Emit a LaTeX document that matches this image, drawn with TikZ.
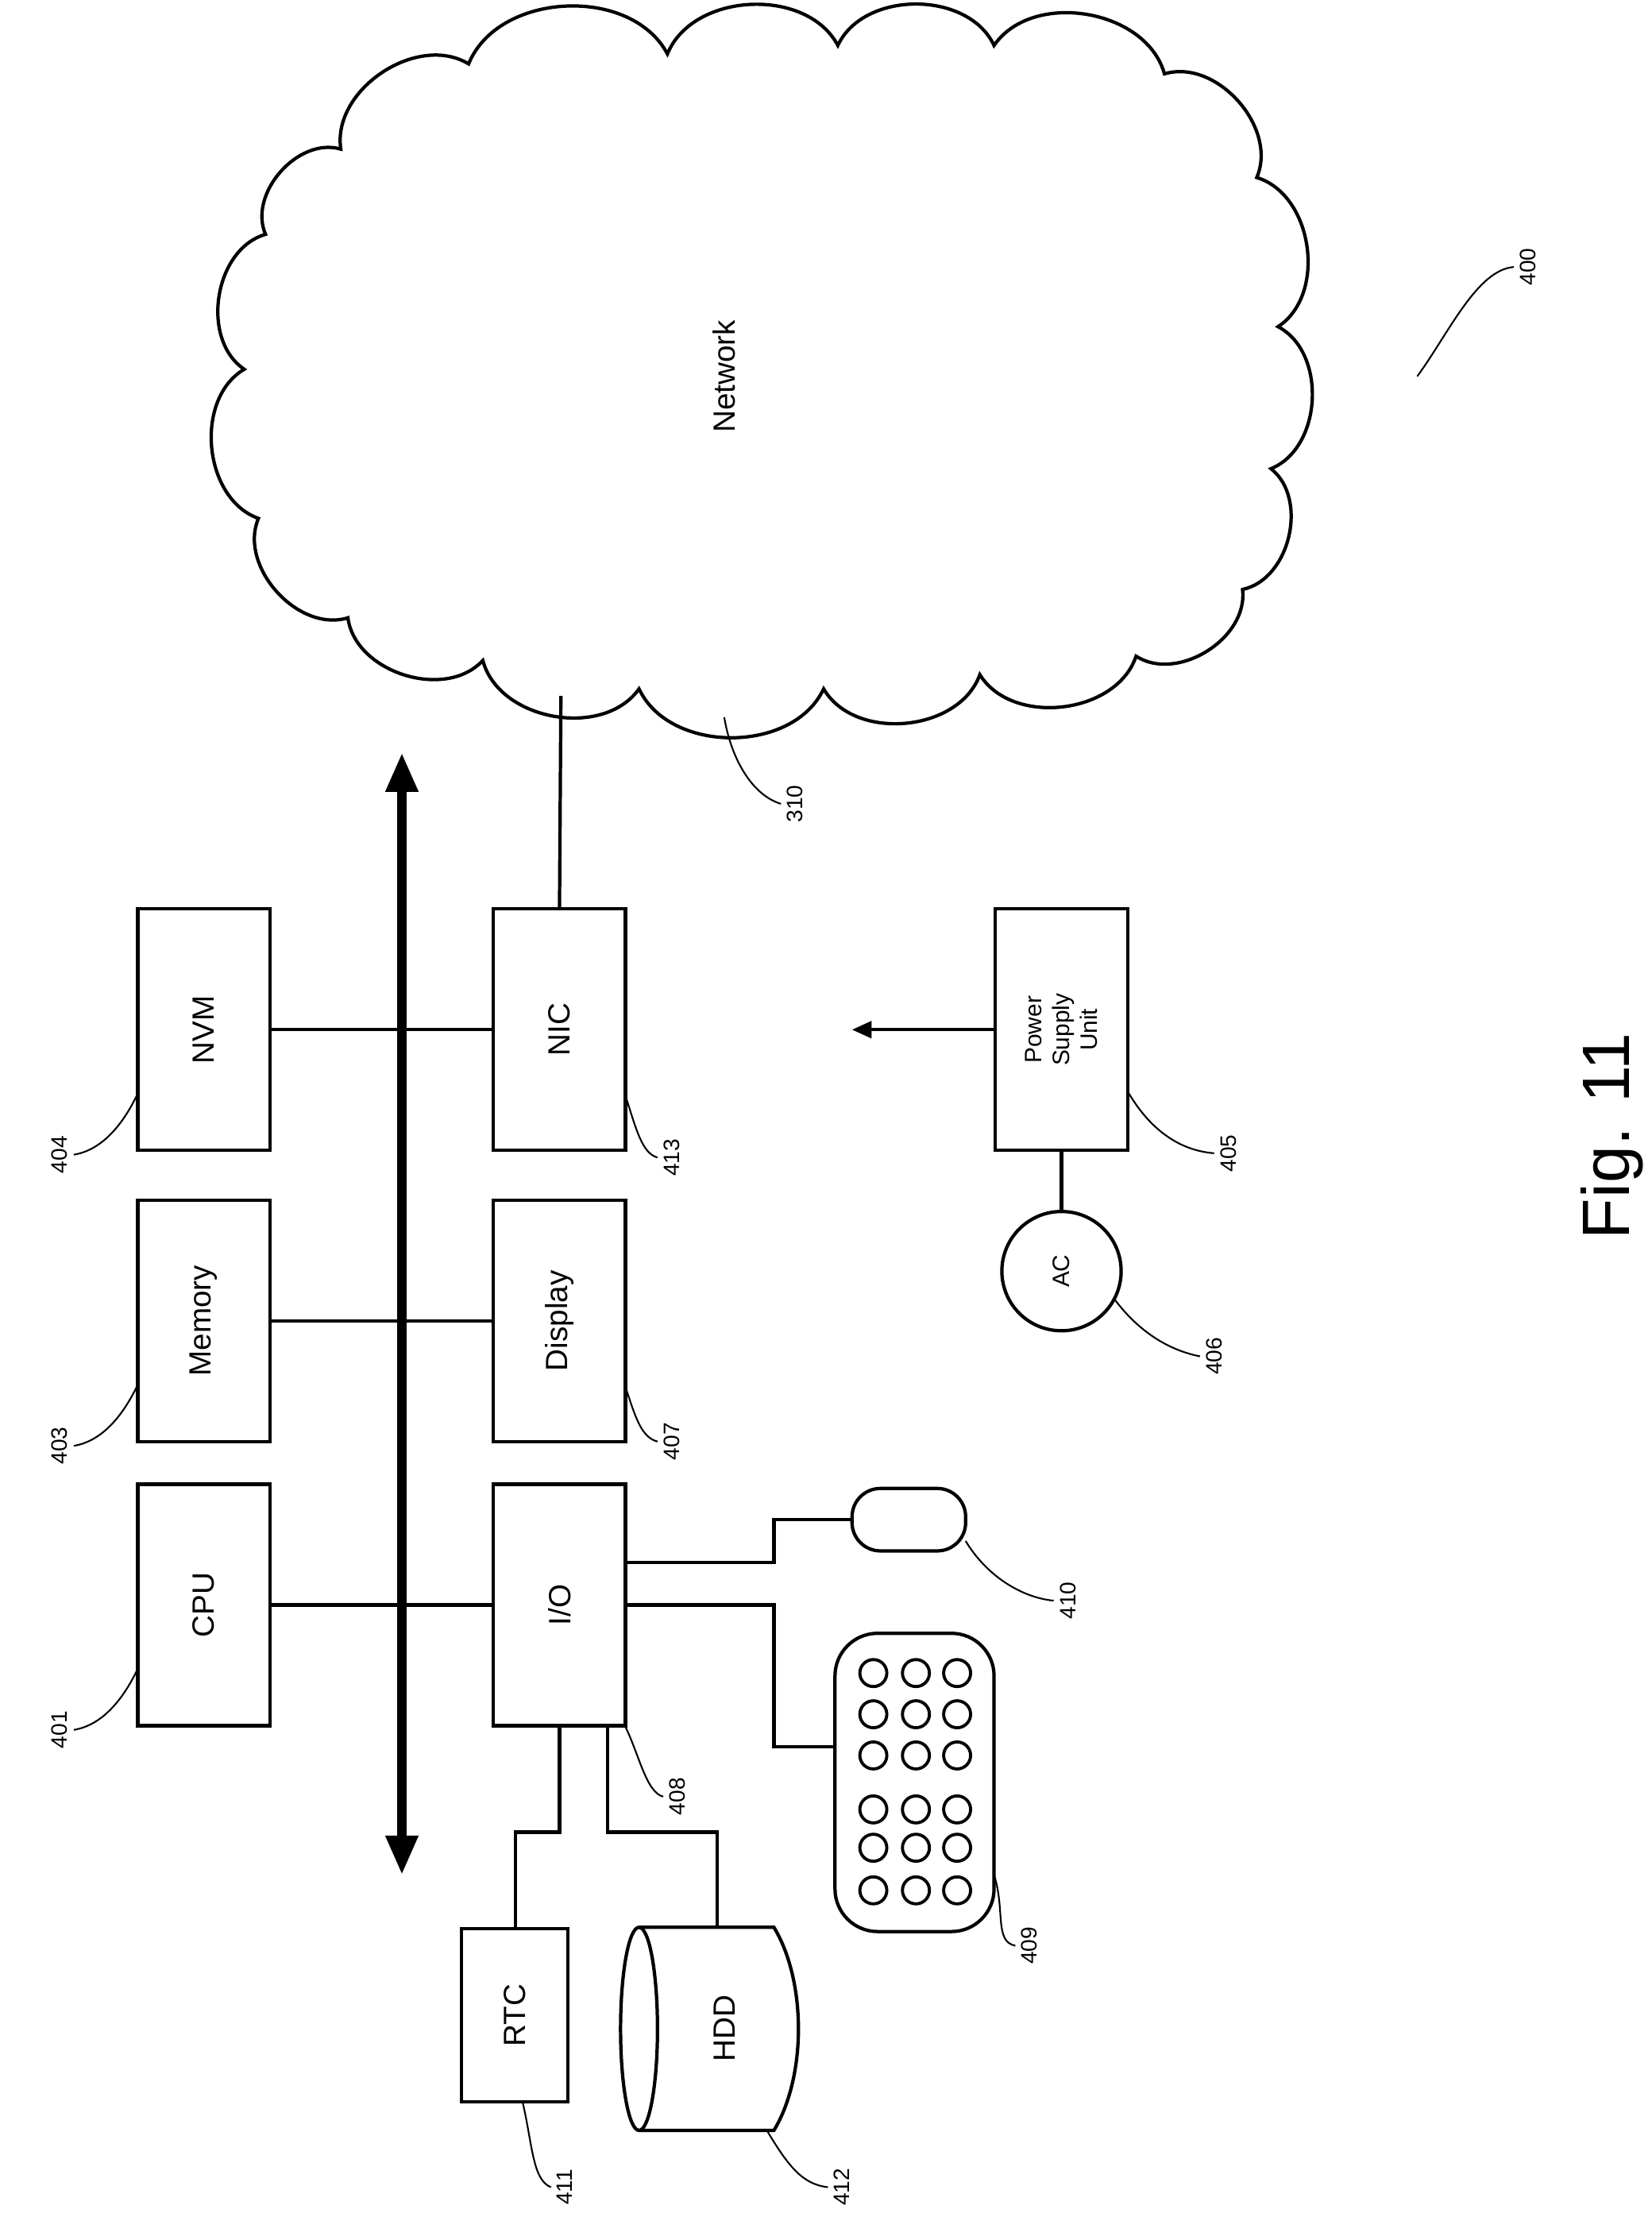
\documentclass[tikz,border=0pt]{standalone}
\usepackage{fontspec}
\setmainfont{Liberation Sans}
\usetikzlibrary{arrows.meta,shapes.geometric}
\begin{document}
\begin{tikzpicture}[x=0.01788cm,y=-0.01788cm,
  box/.style={draw,line width=1.2pt,minimum width=93*0.01788cm,minimum height=170*0.01788cm,inner sep=0pt},
  lbl/.style={rotate=90,font=\fontsize{11}{13}\selectfont},
  num/.style={rotate=90,font=\fontsize{8}{10}\selectfont,inner sep=1pt},
  wire/.style={line width=1.2pt},
  lead/.style={line width=0.6pt},
  key/.style={draw,line width=1.1pt,circle,minimum size=19*0.01788cm,inner sep=0pt}]
\useasboundingbox (0,0) rectangle (1163,1561);
% cloud
\draw[line width=1.2pt] (240,105) to[bend left=65] (330,45) to[bend left=65] (470,38) to[bend left=65] (590,32) to[bend left=65] (700,32) to[bend left=65] (820,52) to[bend left=65] (885,125) to[bend left=65] (900,230) to[bend left=65] (895,330) to[bend left=65] (875,415) to[bend left=65] (800,462) to[bend left=65] (690,475) to[bend left=65] (580,485) to[bend left=65] (450,485) to[bend left=65] (340,465) to[bend left=65] (245,435) to[bend left=65] (182,365) to[bend left=65] (172,260) to[bend left=65] (187,165) to[bend left=65] cycle;
\node[lbl] (net) at (510,265) {Network};
\coordinate (cloudb) at (395,490);
% boxes
\node[box] (cpu) at (143.5,1130) {}; \node[lbl] at (cpu) {CPU};
\node[box] (mem) at (143.5,930) {}; \node[lbl] at (mem) {Memory};
\node[box] (nvm) at (143.5,725) {}; \node[lbl] at (nvm) {NVM};
\node[box] (io) at (394,1130) {}; \node[lbl] at (io) {I/O};
\node[box] (disp) at (394,930) {}; \node[lbl] at (disp) {Display};
\node[box] (nic) at (394,725) {}; \node[lbl] at (nic) {NIC};
\node[box] (psu) at (747.5,725) {}; \node[lbl,align=center,font=\fontsize{8.5}{10}\selectfont] at (psu) {Power\\Supply\\Unit};
\node[draw,circle,line width=1.2pt,minimum size=84*0.01788cm,inner sep=0pt] (ac) at (747.5,895) {};
\node[lbl,font=\fontsize{8.5}{10}\selectfont] at (ac) {AC};
\node[draw,line width=1.2pt,minimum width=75*0.01788cm,minimum height=122*0.01788cm,inner sep=0pt] (rtc) at (362.5,1419) {};
\node[lbl] at (rtc) {RTC};
\node[draw,line width=1.2pt,rounded corners=20*0.01788cm,minimum width=80*0.01788cm,minimum height=44*0.01788cm,inner sep=0pt] (mouse) at (640,1070) {};
\node[draw,line width=1.2pt,rounded corners=30*0.01788cm,minimum width=112*0.01788cm,minimum height=210*0.01788cm,inner sep=0pt] (kbd) at (644,1255) {};
\foreach \c in {615,645,674} \foreach \r in {1178,1207,1236,1274,1301,1331} \node[key] at (\c,\r) {};
% HDD
\coordinate (hddtop) at (505,1357);
\draw[line width=1.2pt] (450,1357) -- (545,1357) .. controls (568,1395) and (568,1462) .. (545,1500) -- (450,1500);
\draw[line width=1.2pt] (450,1428.5) ellipse [x radius=13, y radius=71.5];
\node[lbl] (hdd) at (510,1428) {HDD};
% bus
\coordinate (bt) at (283,530); \coordinate (bb) at (283,1320);
\draw[line width=3.2pt,{Triangle[length=14pt,width=11pt]}-{Triangle[length=14pt,width=11pt]}] (bt) -- (bb);
% wires
\draw[wire] (cpu.east) -- (io.west);
\draw[wire] (mem.east) -- (disp.west);
\draw[wire] (nvm.east) -- (nic.west);
\draw[wire] (nic.north) -- (cloudb);
\coordinate (pwr) at (600,725);
\draw[wire,-{Triangle[length=7pt,width=6pt]}] (psu.west) -- (pwr);
\draw[wire] (psu.south) -- (ac.north);
\draw[wire] (io.east |- 0,1100) -- (545,1100) -- (545,1070) -- (mouse.west);
\draw[wire] (io.east |- 0,1130) -- (545,1130) -- (545,1230) -- (kbd.west |- 0,1230);
\draw[wire] (394,1215) -- (394,1290) -- (363,1290) -- (363,1358);
\draw[wire] (428,1215) -- (428,1290) -- (505,1290) -- (hddtop);
% leaders and numbers
\draw[lead] (97,1175) .. controls (85,1200) and (70,1215) .. (52,1218);
\node[num,anchor=south] at (50,1218) {401};
\draw[lead] (97,975) .. controls (85,1000) and (70,1015) .. (52,1018);
\node[num,anchor=south] at (50,1018) {403};
\draw[lead] (97,770) .. controls (85,795) and (70,810) .. (52,813);
\node[num,anchor=south] at (50,813) {404};
\draw[lead] (440,770) .. controls (448,795) and (452,812) .. (463,815);
\node[num,anchor=north] at (465,815) {413};
\draw[lead] (440,975) .. controls (448,1000) and (452,1012) .. (463,1015);
\node[num,anchor=north] at (465,1015) {407};
\draw[lead] (440,1215) .. controls (450,1235) and (455,1262) .. (467,1265);
\node[num,anchor=north] at (469,1265) {408};
\draw[lead] (680,1085) .. controls (695,1110) and (720,1125) .. (742,1127);
\node[num,anchor=north] at (744,1127) {410};
\draw[lead] (700,1320) .. controls (708,1345) and (700,1367) .. (715,1370);
\node[num,anchor=north] at (717,1370) {409};
\draw[lead] (368,1480) .. controls (375,1510) and (375,1535) .. (388,1540);
\node[num,anchor=north] at (390,1540) {411};
\draw[lead] (540,1500) .. controls (555,1525) and (565,1538) .. (583,1540);
\node[num,anchor=north] at (585,1540) {412};
\draw[lead] (795,770) .. controls (810,795) and (830,810) .. (855,812);
\node[num,anchor=north] at (857,812) {405};
\draw[lead] (785,915) .. controls (800,935) and (820,950) .. (845,955);
\node[num,anchor=north] at (847,955) {406};
\draw[lead] (510,505) .. controls (515,535) and (530,560) .. (550,566);
\node[num,anchor=north] at (552,566) {310};
\draw[lead] (998,265) .. controls (1020,235) and (1040,190) .. (1066,188);
\node[num,anchor=north] at (1068,188) {400};
\node[rotate=90,font=\fontsize{24}{28}\selectfont] (fig) at (1135,800) {Fig. 11};
\end{tikzpicture}
\end{document}
